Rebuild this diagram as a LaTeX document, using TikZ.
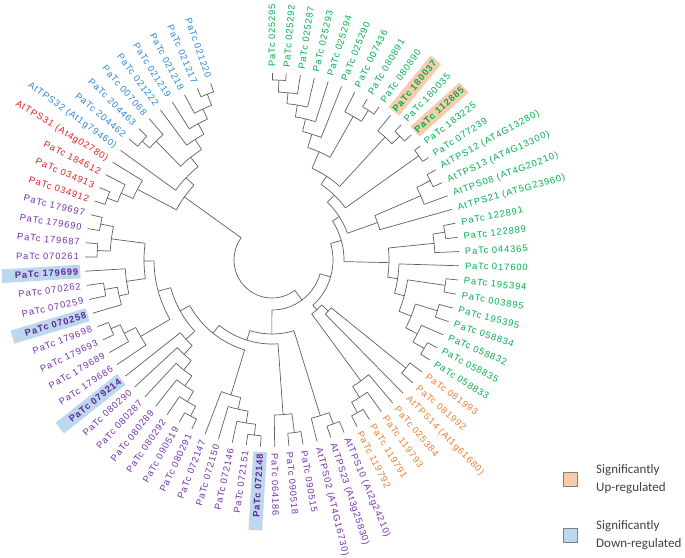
\documentclass[tikz,border=0pt]{standalone}
\usepackage{fontspec}
\newfontfamily\labfont[LetterSpace=10]{Liberation Sans}
\newfontfamily\legfont{Carlito}
\definecolor{cgreen}{RGB}{0,176,80}
\definecolor{cblue}{RGB}{46,134,214}
\definecolor{cred}{RGB}{226,32,38}
\definecolor{cpurple}{RGB}{118,50,174}
\definecolor{cpurpled}{RGB}{96,40,150}
\definecolor{corange}{RGB}{237,125,49}
\definecolor{hlorange}{RGB}{248,203,173}
\definecolor{hlblue}{RGB}{189,215,238}
\definecolor{brc}{RGB}{96,96,96}
\definecolor{legtext}{RGB}{64,64,64}
\def\stp{4.37}
\def\Rt{187}
\def\Rl{192}
\newcommand\leaf[3]{%
  \pgfmathsetmacro\la{90-(#1-1)*\stp}%
  \expandafter\xdef\csname ang#1\endcsname{\la}%
  \expandafter\xdef\csname rad#1\endcsname{\Rt}%
  \coordinate (t#1) at (\la:\Rt pt);
  \pgfmathtruncatemacro\isleft{\la<-90}%
  \ifnum\isleft=1
    \pgfmathsetmacro\rot{\la+180}%
    \node[lab,#3,anchor=east,rotate=\rot] (l#1) at (\la:\Rl pt) {#2};
  \else
    \node[lab,#3,anchor=west,rotate=\la] (l#1) at (\la:\Rl pt) {#2};
  \fi
}
\newcommand\jn[3]{%
  \gdef\amax{-10000}\gdef\amin{10000}%
  \foreach \kid in {#3}{%
    \edef\ca{\csname ang\kid\endcsname}%
    \edef\cr{\csname rad\kid\endcsname}%
    \draw[branch] (\ca:#2pt) -- (\ca:\cr pt);
    \pgfmathsetmacro\tmp{max(\amax,\ca)}\xdef\amax{\tmp}%
    \pgfmathsetmacro\tmp{min(\amin,\ca)}\xdef\amin{\tmp}%
  }%
  \draw[branch] (\amin:#2pt) arc[start angle=\amin, end angle=\amax, radius=#2pt];
  \pgfmathsetmacro\tmp{(\amin+\amax)/2}%
  \expandafter\xdef\csname ang#1\endcsname{\tmp}%
  \expandafter\xdef\csname rad#1\endcsname{#2}%
  \coordinate (#1) at (\tmp:#2pt);
}
\tikzset{
  branch/.style={draw=brc, line width=0.7pt},
  lab/.style={font=\labfont\fontsize{9.3}{10}\selectfont, inner xsep=1pt, inner ysep=2pt},
  tgreen/.style={text=cgreen}, torange/.style={text=corange},
  tpurple/.style={text=cpurple}, tred/.style={text=cred}, tblue/.style={text=cblue},
  hlo/.style={fill=hlorange, inner ysep=3.5pt},
  hlb/.style={fill=hlblue, inner ysep=3.5pt, text=cpurpled},
  legbox/.style={draw=gray, line width=0.8pt, minimum size=14pt, inner sep=0pt},
  legtxt/.style={anchor=west, align=left, inner sep=0pt, text=legtext, font=\legfont\fontsize{13}{17.5}\selectfont}
}
\begin{document}
\begin{tikzpicture}[x=1pt,y=1pt]
\path[use as bounding box, fill=white] (-272,-297) rectangle (413,260);
% leaves
\leaf{1}{PaTc 025295}{tgreen}
\leaf{2}{PaTc 025292}{tgreen}
\leaf{3}{PaTc 025287}{tgreen}
\leaf{4}{PaTc 025293}{tgreen}
\leaf{5}{PaTc 025294}{tgreen}
\leaf{6}{PaTc 025290}{tgreen}
\leaf{7}{PaTc 007436}{tgreen}
\leaf{8}{PaTc 080891}{tgreen}
\leaf{9}{PaTc 080890}{tgreen}
\leaf{10}{\textbf{PaTc 180037}\hspace{12pt}}{tgreen,hlo}
\leaf{11}{PaTc 180035}{tgreen}
\leaf{12}{\textbf{PaTc 112885}\hspace{12pt}}{tgreen,hlo}
\leaf{13}{PaTc 183225}{tgreen}
\leaf{14}{PaTc 077239}{tgreen}
\leaf{15}{AtTPS12 (AT4G13280)}{tgreen}
\leaf{16}{AtTPS13 (AT4G13300)}{tgreen}
\leaf{17}{AtTPS08 (AT4G20210)}{tgreen}
\leaf{18}{AtTPS21 (AT5G23960)}{tgreen}
\leaf{19}{PaTc 122891}{tgreen}
\leaf{20}{PaTc 122889}{tgreen}
\leaf{21}{PaTc 044365}{tgreen}
\leaf{22}{PaTc 017600}{tgreen}
\leaf{23}{PaTc 195394}{tgreen}
\leaf{24}{PaTc 003895}{tgreen}
\leaf{25}{PaTc 195395}{tgreen}
\leaf{26}{PaTc 058834}{tgreen}
\leaf{27}{PaTc 058832}{tgreen}
\leaf{28}{PaTc 058835}{tgreen}
\leaf{29}{PaTc 058833}{tgreen}
\leaf{30}{PaTc 081993}{torange}
\leaf{31}{PaTc 081992}{torange}
\leaf{32}{AtTPS14 (At1g61680)}{torange}
\leaf{33}{PaTc 025384}{torange}
\leaf{34}{PaTc 119793}{torange}
\leaf{35}{PaTc 119791}{torange}
\leaf{36}{PaTc 119792}{torange}
\leaf{37}{AtTPS10 (At2g24210)}{tpurple}
\leaf{38}{AtTPS23 (At3g25830)}{tpurple}
\leaf{39}{AtTPS02 (AT4G16730)}{tpurple}
\leaf{40}{PaTc 090515}{tpurple}
\leaf{41}{PaTc 090518}{tpurple}
\leaf{42}{PaTc 064186}{tpurple}
\leaf{43}{\hspace{12pt}\textbf{PaTc 072148}}{tpurple,hlb}
\leaf{44}{PaTc 072151}{tpurple}
\leaf{45}{PaTc 072146}{tpurple}
\leaf{46}{PaTc 072150}{tpurple}
\leaf{47}{PaTc 072147}{tpurple}
\leaf{48}{PaTc 080291}{tpurple}
\leaf{49}{PaTc 090519}{tpurple}
\leaf{50}{PaTc 080292}{tpurple}
\leaf{51}{PaTc 080289}{tpurple}
\leaf{52}{PaTc 080287}{tpurple}
\leaf{53}{PaTc 080290}{tpurple}
\leaf{54}{\hspace{12pt}\textbf{PaTc 079214}}{tpurple,hlb}
\leaf{55}{PaTc 179686}{tpurple}
\leaf{56}{PaTc 179689}{tpurple}
\leaf{57}{PaTc 179693}{tpurple}
\leaf{58}{PaTc 179698}{tpurple}
\leaf{59}{\hspace{12pt}\textbf{PaTc 070258}}{tpurple,hlb}
\leaf{60}{PaTc 070259}{tpurple}
\leaf{61}{PaTc 070262}{tpurple}
\leaf{62}{\hspace{12pt}\textbf{PaTc 179699}}{tpurple,hlb}
\leaf{63}{PaTc 070261}{tpurple}
\leaf{64}{PaTc 179687}{tpurple}
\leaf{65}{PaTc 179690}{tpurple}
\leaf{66}{PaTc 179697}{tpurple}
\leaf{67}{PaTc 034912}{tred}
\leaf{68}{PaTc 034913}{tred}
\leaf{69}{PaTc 184612}{tred}
\leaf{70}{AtTPS31 (At4g02780)}{tred}
\leaf{71}{AtTPS32 (At1g79460)}{tblue}
\leaf{72}{PaTc 204462}{tblue}
\leaf{73}{PaTc 204463}{tblue}
\leaf{74}{PaTc 007068}{tblue}
\leaf{75}{PaTc 021222}{tblue}
\leaf{76}{PaTc 021219}{tblue}
\leaf{77}{PaTc 021218}{tblue}
\leaf{78}{PaTc 021217}{tblue}
\leaf{79}{PaTc 021220}{tblue}
% green clade
\jn{n1}{180}{1,2}
\jn{n2}{168}{n1,3}
\jn{n3}{157}{n2,4}
\jn{n4}{145}{n3,5}
\jn{n5}{132}{n4,6}
\jn{n6}{178}{8,9}
\jn{n7}{165}{7,n6}
\jn{n8}{118}{n5,n7}
\jn{n9}{178}{11,12}
\jn{n10}{167}{10,n9}
\jn{n11}{180}{13,14}
\jn{m1}{100}{n8,n10}
\jn{m2}{90}{m1,n11}
\jn{x1}{177}{15,16}
\jn{x2}{162}{x1,17}
\jn{x3}{112}{x2,18}
\jn{m3}{80}{m2,x3}
\jn{g1}{175}{19,20}
\jn{g2}{163}{g1,21}
\jn{g3}{175}{23,24}
\jn{g4}{173}{25,26}
\jn{g5}{176}{28,29}
\jn{g6}{163}{27,g5}
\jn{g7}{150}{g4,g6}
\jn{g8}{137}{g3,g7}
\jn{g9}{127}{22,g8}
\jn{g10}{117}{g2,g9}
\jn{m4}{72}{m3,g10}
% orange clade
\jn{o1}{172}{30,31}
\jn{o2}{175}{35,36}
\jn{o3}{163}{34,o2}
\jn{o4}{150}{33,o3}
\jn{o6}{76}{o1,32}
\jn{o7}{67}{o6,o4}
\jn{m5}{61}{m4,o7}
% purple clade
\jn{p1}{175}{37,38}
\jn{p2}{163}{p1,39}
\jn{p3}{174}{40,41}
\jn{p4}{155}{p3,42}
\jn{p6}{176}{43,44}
\jn{p7}{165}{p6,45}
\jn{p8}{153}{p7,46}
\jn{p9}{141}{p8,47}
\jn{p10}{176}{48,49}
\jn{p11}{165}{p10,50}
\jn{p12}{153}{p11,51}
\jn{p13}{141}{p12,52}
\jn{p14}{129}{p13,53}
\jn{p15}{117}{p14,54}
\jn{q1}{175}{57,58}
\jn{q2}{165}{56,q1}
\jn{q3}{152}{55,q2}
\jn{q4}{170}{60,61}
\jn{q5}{157}{59,q4}
\jn{q6}{147}{q5,62}
\jn{q7}{175}{63,64}
\jn{q8}{175}{65,66}
\jn{q9}{162}{q7,q8}
\jn{q10}{128}{q6,q9}
\jn{q11}{118}{q3,q10}
\jn{w1}{105}{p15,q11}
\jn{y1}{94}{p9,w1}
\jn{x4}{84}{p4,y1}
\jn{p18}{74}{p2,x4}
% red and blue clades
\jn{r1}{176}{67,68}
\jn{r2}{165}{r1,69}
\jn{r3}{152}{r2,70}
\jn{b1}{178}{78,79}
\jn{b2}{166}{77,b1}
\jn{b3}{155}{76,b2}
\jn{b4}{143}{75,b3}
\jn{b5}{176}{72,73}
\jn{b6}{166}{b5,74}
\jn{b7}{131}{b6,b4}
\jn{b8}{119}{71,b7}
\jn{rb}{108}{r3,b8}
\jn{B}{50}{m5,p18}
\jn{root}{38}{B,rb}
% legend
\node[legbox, fill=hlorange] (sq1) at (298,-219) {};
\node[legtxt] (lg1) at (324,-219) {Significantly\\Up-regulated};
\node[legbox, fill=hlblue] (sq2) at (298,-275) {};
\node[legtxt] (lg2) at (324,-275) {Significantly\\Down-regulated};
\end{tikzpicture}
\end{document}
